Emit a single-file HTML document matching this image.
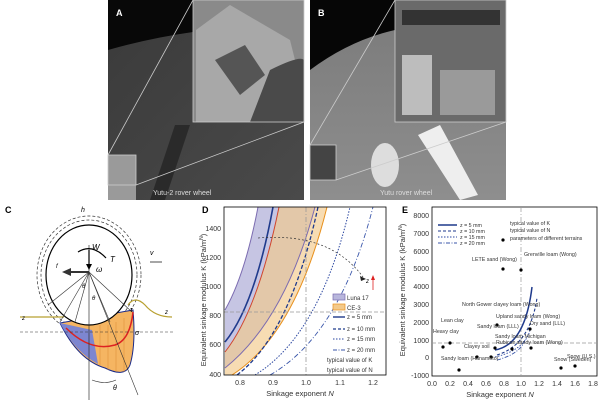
<!DOCTYPE html>
<html><head><meta charset="utf-8"><style>
body{margin:0;background:#fff;}
svg{display:block;font-family:"Liberation Sans",sans-serif;}
</style></head><body>
<svg width="600" height="400" viewBox="0 0 600 400" xmlns="http://www.w3.org/2000/svg">
<defs>
<linearGradient id="ga" x1="0" y1="0" x2="1" y2="1"><stop offset="0" stop-color="#3a3a3a"/><stop offset="1" stop-color="#4a4a4a"/></linearGradient>
<linearGradient id="gb" x1="0" y1="0" x2="0" y2="1"><stop offset="0" stop-color="#7a7a7a"/><stop offset="1" stop-color="#8e8e8e"/></linearGradient>
</defs>
<!-- Photo A -->
<rect x="108" y="0" width="196" height="200" fill="url(#ga)"/>
<path d="M108 0 H193 V32 Q150 38 108 50 Z" fill="#080808"/>
<path d="M150 200 L175 125 L190 125 L165 200 Z" fill="#2a2a2a"/>
<rect x="193" y="0" width="111" height="122" fill="#8a8a8a"/>
<path d="M196 30 L230 5 L290 40 L300 80 L260 122 L196 122 Z" fill="#a8a8a8"/>
<path d="M215 60 L245 45 L265 75 L240 95 Z" fill="#555"/>
<path d="M270 70 Q300 55 304 60 V122 H250 Z" fill="#4a4a4a"/>
<rect x="108" y="155" width="28" height="45" fill="#9a9a9a"/>
<rect x="108" y="155" width="28" height="30" fill="none" stroke="#ccc" stroke-width="0.8"/>
<line x1="108" y1="155" x2="193" y2="0" stroke="#ccc" stroke-width="0.8"/>
<line x1="136" y1="185" x2="304" y2="122" stroke="#ccc" stroke-width="0.8"/>
<rect x="193" y="0" width="111" height="122" fill="none" stroke="#ccc" stroke-width="0.8"/>
<text x="116" y="16" fill="#fff" font-size="9" font-weight="bold">A</text>
<text x="153" y="195" fill="#ddd" font-size="7">Yutu-2 rover wheel</text>
<!-- Photo B -->
<rect x="310" y="0" width="196" height="200" fill="url(#gb)"/>
<path d="M310 0 H395 V30 Q350 40 310 70 Z" fill="#060606"/>
<rect x="395" y="0" width="111" height="122" fill="#6a6a6a"/>
<rect x="402" y="55" width="30" height="60" fill="#bdbdbd"/>
<rect x="440" y="70" width="55" height="45" fill="#9a9a9a"/>
<path d="M402 10 L500 10 L500 25 L402 25 Z" fill="#333"/>
<path d="M418 135 L440 125 L478 195 L460 200 Z" fill="#eee"/>
<ellipse cx="385" cy="165" rx="14" ry="22" fill="#ddd"/>
<rect x="310" y="145" width="26" height="35" fill="#444"/>
<rect x="310" y="145" width="26" height="35" fill="none" stroke="#ccc" stroke-width="0.8"/>
<line x1="310" y1="145" x2="395" y2="0" stroke="#ccc" stroke-width="0.8"/>
<line x1="336" y1="180" x2="506" y2="122" stroke="#ccc" stroke-width="0.8"/>
<rect x="395" y="0" width="111" height="122" fill="none" stroke="#ccc" stroke-width="0.8"/>
<text x="318" y="16" fill="#fff" font-size="9" font-weight="bold">B</text>
<text x="380" y="195" fill="#ddd" font-size="7">Yutu rover wheel</text>

<!-- Panel C -->
<text x="5" y="213" font-size="9" font-weight="bold">C</text>
<ellipse cx="89" cy="275" rx="52" ry="59" fill="none" stroke="#333" stroke-width="0.7" stroke-dasharray="3,2"/>
<ellipse cx="89" cy="275" rx="48" ry="55" fill="none" stroke="#333" stroke-width="0.7" stroke-dasharray="3,2"/>
<path d="M60 323 Q78 360 105 368 Q125 378 130 365 Q136 345 133 310 Z" fill="#f5b562" stroke="#1a2a8a" stroke-width="1"/>
<path d="M60 323 Q75 352 98 364 L92 330 Z" fill="#7d86d0"/>
<g stroke="#d98a30" stroke-width="0.5"><line x1="100" y1="325" x2="100" y2="365"/><line x1="108" y1="325" x2="108" y2="370"/><line x1="116" y1="322" x2="116" y2="372"/><line x1="124" y1="318" x2="124" y2="372"/></g>
<ellipse cx="89" cy="275" rx="43" ry="50" fill="#fff" stroke="#000" stroke-width="1.2"/>
<path d="M66 328 Q90 352 115 345 Q130 340 133 312" fill="none" stroke="#d22" stroke-width="1.5"/>
<line x1="20" y1="317" x2="64" y2="317" stroke="#b8a030" stroke-width="1.2"/>
<path d="M128 305 Q135 295 145 305 Q155 317 172 317" fill="none" stroke="#b8a030" stroke-width="1.2"/>
<line x1="20" y1="332" x2="175" y2="332" stroke="#333" stroke-width="0.6" stroke-dasharray="3,2"/>
<line x1="89" y1="245" x2="89" y2="400" stroke="#333" stroke-width="0.7"/>
<line x1="89" y1="272" x2="138" y2="395" stroke="#333" stroke-width="0.6"/>
<line x1="89" y1="272" x2="132" y2="312" stroke="#333" stroke-width="0.6"/>
<line x1="89" y1="272" x2="60" y2="322" stroke="#333" stroke-width="0.6"/>
<line x1="89" y1="272" x2="48" y2="305" stroke="#333" stroke-width="0.6"/>
<line x1="89" y1="272" x2="75" y2="322" stroke="#333" stroke-width="0.6"/>
<line x1="89" y1="272" x2="110" y2="322" stroke="#333" stroke-width="0.6"/>
<path d="M89 272 L70 272" stroke="#333" stroke-width="2" /><path d="M62 272 L71 268 L71 276 Z" fill="#333"/>
<path d="M89 250 L89 268" stroke="#000" stroke-width="1.2"/><path d="M86 264 L92 264 L89 270 Z"/>
<path d="M78 252 Q92 243 106 258" fill="none" stroke="#000" stroke-width="1.2"/>
<text x="92" y="250" font-size="8" font-style="italic">W</text>
<text x="110" y="262" font-size="8" font-style="italic">T</text>
<text x="96" y="272" font-size="8" font-style="italic">ω</text>
<text x="56" y="268" font-size="6" font-style="italic">f</text>
<text x="81" y="212" font-size="7" font-style="italic">h</text>
<text x="150" y="255" font-size="7" font-style="italic">v</text>
<line x1="150" y1="262" x2="162" y2="262" stroke="#000" stroke-width="0.7"/>
<text x="22" y="320" font-size="6" font-style="italic">z</text>
<text x="165" y="314" font-size="6" font-style="italic">z</text>
<text x="135" y="335" font-size="7" font-style="italic">σ</text>
<text x="130" y="312" font-size="7" font-style="italic">τ</text>
<text x="82" y="288" font-size="6" font-style="italic">θ</text>
<text x="92" y="300" font-size="6" font-style="italic">θ</text>
<text x="113" y="390" font-size="7" font-style="italic">θ</text>
<path d="M92 380 Q105 385 116 380" fill="none" stroke="#333" stroke-width="0.6"/>

<!-- Panel D -->
<text x="202" y="213" font-size="9" font-weight="bold">D</text>
<g>
<clipPath id="cd"><rect x="224" y="207" width="162" height="168"/></clipPath>
<g clip-path="url(#cd)">
<path d="M225 310 Q245 275 258 207 L315 207 Q285 320 225 368 Z" fill="#b8b6dc" opacity="0.8"/>
<path d="M225 352 Q258 310 279 207 L327 207 Q295 335 232 375 L225 375 Z" fill="#f3c98a" opacity="0.65"/>
<path d="M225 310 Q245 275 258 207" fill="none" stroke="#7b6bb0" stroke-width="1"/>
<path d="M225 368 Q285 320 315 207" fill="none" stroke="#7b6bb0" stroke-width="1"/>
<path d="M225 352 Q258 310 279 207" fill="none" stroke="#d0452c" stroke-width="1"/>
<path d="M232 375 Q295 335 327 207" fill="none" stroke="#e8901c" stroke-width="1"/>
<path d="M225 342 Q255 305 273 207" fill="none" stroke="#1f3a8c" stroke-width="1.6"/>
<path d="M237 375 Q290 335 318 207" fill="none" stroke="#1f3a8c" stroke-width="1.3" stroke-dasharray="4,2"/>
<path d="M255 375 Q320 335 350 207" fill="none" stroke="#2a46a0" stroke-width="1" stroke-dasharray="1.5,1.5"/>
<path d="M270 375 Q340 335 373 207" fill="none" stroke="#3a56aa" stroke-width="0.9" stroke-dasharray="5,2,1,2"/>
<line x1="224" y1="312" x2="386" y2="312" stroke="#999" stroke-width="0.8" stroke-dasharray="4,2"/>
<line x1="306" y1="207" x2="306" y2="375" stroke="#999" stroke-width="0.8" stroke-dasharray="5,2,1,2"/>
<path d="M258 238 Q330 232 363 277" fill="none" stroke="#333" stroke-width="0.7" stroke-dasharray="2,2"/>
<path d="M360 276 L366 279 L361 281 Z" fill="#222"/>
</g>
<rect x="224" y="207" width="162" height="168" fill="none" stroke="#000" stroke-width="0.8"/>
<text x="366" y="283" font-size="6" font-style="italic">z</text>
<line x1="373" y1="290" x2="373" y2="278" stroke="#d22" stroke-width="0.8"/><path d="M371 280 L375 280 L373 275 Z" fill="#d22"/>
<g font-size="6" fill="#333">
<rect x="333" y="294" width="12" height="6" fill="#b8b6dc" stroke="#7b6bb0" stroke-width="0.7"/><text x="347" y="300">Luna 17</text>
<rect x="333" y="304" width="12" height="6" fill="#f3c98a" stroke="#e8901c" stroke-width="0.7"/><text x="347" y="310">CE-3</text>
<line x1="333" y1="317" x2="345" y2="317" stroke="#1f3a8c" stroke-width="1.4"/><text x="347" y="319">z = 5 mm</text>
<line x1="333" y1="329" x2="345" y2="329" stroke="#1f3a8c" stroke-width="1.2" stroke-dasharray="3,2"/><text x="347" y="331">z = 10 mm</text>
<line x1="333" y1="339" x2="345" y2="339" stroke="#2a46a0" stroke-dasharray="1.5,1.5"/><text x="347" y="341">z = 15 mm</text>
<line x1="333" y1="350" x2="345" y2="350" stroke="#3a56aa" stroke-dasharray="4,1.5,1,1.5"/><text x="347" y="352">z = 20 mm</text>
<text x="327" y="362">typical value of K</text>
<text x="327" y="372">typical value of N</text>
</g>
<g font-size="7" fill="#333" text-anchor="end">
<text x="221" y="231">1400</text><text x="221" y="260">1200</text><text x="221" y="289">1000</text><text x="221" y="318">800</text><text x="221" y="347">600</text><text x="221" y="377">400</text>
</g>
<g font-size="7" fill="#333" text-anchor="middle">
<text x="240" y="385">0.8</text><text x="273" y="385">0.9</text><text x="306" y="385">1.0</text><text x="340" y="385">1.1</text><text x="373" y="385">1.2</text>
</g>
<text x="300" y="396" font-size="7.5" fill="#333" text-anchor="middle">Sinkage exponent <tspan font-style="italic">N</tspan></text>
<text transform="translate(206,300) rotate(-90)" font-size="7.5" fill="#333" text-anchor="middle">Equivalent sinkage modulus K (kPa/m<tspan font-size="5" dy="-3">N</tspan><tspan dy="3">)</tspan></text>
</g>

<!-- Panel E -->
<text x="402" y="213" font-size="9" font-weight="bold">E</text>
<rect x="432" y="207" width="165" height="169" fill="none" stroke="#000" stroke-width="0.8"/>
<line x1="432" y1="343" x2="597" y2="343" stroke="#999" stroke-width="0.7" stroke-dasharray="4,2"/>
<line x1="521" y1="207" x2="521" y2="376" stroke="#999" stroke-width="0.7" stroke-dasharray="5,2,1,2"/>
<path d="M495 350 Q525 345 532 287" fill="none" stroke="#1f3a8c" stroke-width="1.5"/>
<path d="M497 355 Q530 345 537 298" fill="none" stroke="#1f3a8c" stroke-width="1.1" stroke-dasharray="3,2"/>
<path d="M495 357 Q525 350 530 330" fill="none" stroke="#2a46a0" stroke-width="0.9" stroke-dasharray="1.5,1.5"/>
<path d="M497 360 Q520 354 525 340" fill="none" stroke="#3a56aa" stroke-width="0.9" stroke-dasharray="4,1.5,1,1.5"/>
<g fill="#000">
<circle cx="443" cy="347" r="1.6"/><circle cx="450" cy="343" r="1.6"/><circle cx="459" cy="370" r="1.6"/><circle cx="477" cy="357" r="1.6"/><circle cx="491" cy="357" r="1.6"/><circle cx="495" cy="348" r="1.6"/><circle cx="497" cy="325" r="1.6"/><circle cx="503" cy="269" r="1.6"/><circle cx="521" cy="270" r="1.6"/><circle cx="530" cy="329" r="1.6"/><circle cx="531" cy="348" r="1.6"/><circle cx="512" cy="349" r="1.6"/><circle cx="561" cy="368" r="1.6"/><circle cx="575" cy="366" r="1.6"/><circle cx="503" cy="240" r="1.6"/>
</g>
<g font-size="5.3" fill="#333">
<text x="472" y="261">LETE sand (Wong)</text><text x="524" y="256">Grenville loam (Wong)</text>
<text x="462" y="306">North Gower clayey loam (Wong)</text>
<text x="496" y="318">Upland sandy loam (Wong)</text>
<text x="530" y="325">Dry sand (LLL)</text>
<text x="477" y="328">Sandy loam (LLL)</text>
<text x="495" y="338">Sandy loam Michigan</text>
<text x="496" y="344">Rubicon sandy loam (Wong)</text>
<text x="441" y="322">Lean clay</text><text x="433" y="333">Heavy clay</text>
<text x="464" y="348">Clayey soil</text>
<text x="441" y="360">Sandy loam (Hanamoto)</text>
<text x="567" y="358">Snow (U.S.)</text><text x="554" y="361">Snow (Sweden)</text>
<line x1="438" y1="225" x2="457" y2="225" stroke="#1f3a8c" stroke-width="1.4"/><text x="460" y="227">z = 5 mm</text>
<line x1="438" y1="231" x2="457" y2="231" stroke="#1f3a8c" stroke-dasharray="3,2"/><text x="460" y="233">z = 10 mm</text>
<line x1="438" y1="237" x2="457" y2="237" stroke="#2a46a0" stroke-dasharray="1.5,1.5"/><text x="460" y="239">z = 15 mm</text>
<line x1="438" y1="243" x2="457" y2="243" stroke="#3a56aa" stroke-dasharray="4,1.5,1,1.5"/><text x="460" y="245">z = 20 mm</text>
<text x="510" y="225">typical value of K</text><text x="510" y="232">typical value of N</text><text x="510" y="240">parameters of different terrains</text>
</g>
<g font-size="7" fill="#333" text-anchor="end">
<text x="429" y="218">8000</text><text x="429" y="236">7000</text><text x="429" y="254">6000</text><text x="429" y="271">5000</text><text x="429" y="289">4000</text><text x="429" y="307">3000</text><text x="429" y="325">2000</text><text x="429" y="343">1000</text><text x="429" y="360">0</text><text x="429" y="378">-1000</text>
</g>
<g font-size="7" fill="#333" text-anchor="middle">
<text x="432" y="386">0.0</text><text x="450" y="386">0.2</text><text x="468" y="386">0.4</text><text x="486" y="386">0.6</text><text x="504" y="386">0.8</text><text x="521" y="386">1.0</text><text x="539" y="386">1.2</text><text x="557" y="386">1.4</text><text x="575" y="386">1.6</text><text x="593" y="386">1.8</text>
</g>
<text x="500" y="397" font-size="7.5" fill="#333" text-anchor="middle">Sinkage exponent <tspan font-style="italic">N</tspan></text>
<text transform="translate(405,290) rotate(-90)" font-size="7.5" fill="#333" text-anchor="middle">Equivalent sinkage modulus K (kPa/m<tspan font-size="5" dy="-3">N</tspan><tspan dy="3">)</tspan></text>
</svg>
</body></html>
